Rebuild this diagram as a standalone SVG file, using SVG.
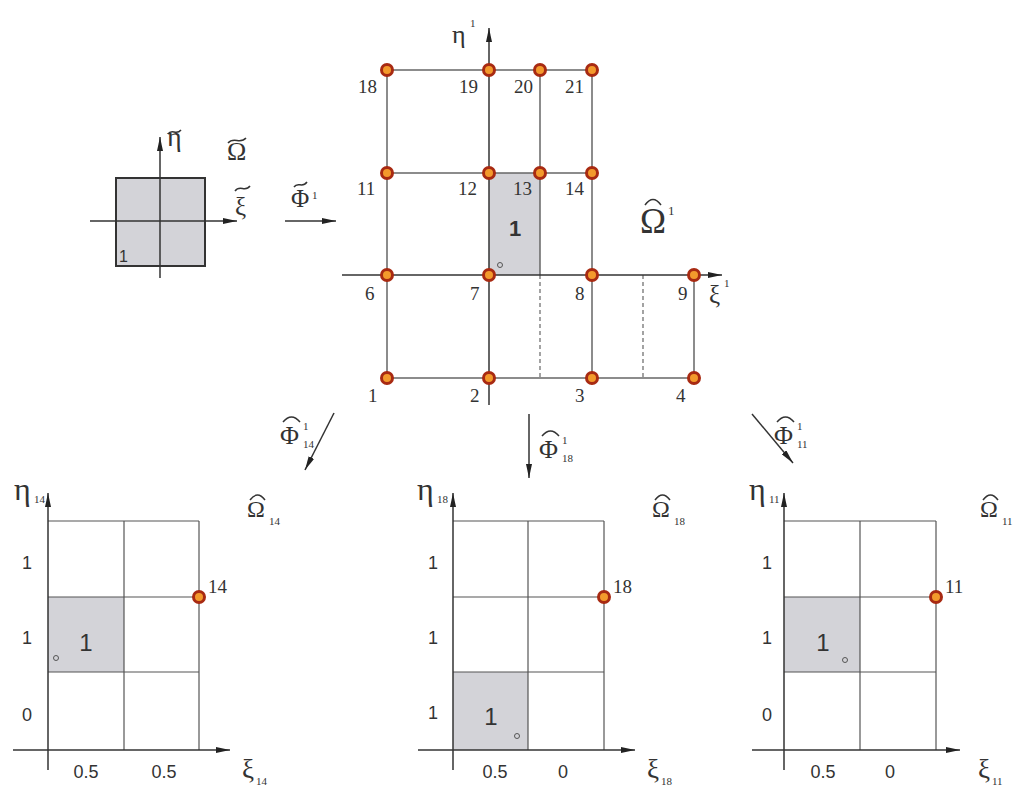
<svg xmlns="http://www.w3.org/2000/svg" width="1020" height="788" viewBox="0 0 1020 788">
<style>
.g{stroke:#666;stroke-width:1.5;fill:none}
.gt{stroke:#555;stroke-width:1.2;fill:none}
.ax{stroke:#333;stroke-width:1.5;fill:none}
.d{stroke:#666;stroke-width:1.2;stroke-dasharray:4,3;fill:none}
.n{fill:#f39a2c;stroke:#a82a12;stroke-width:3}
.sh{fill:#d3d3d8}
.s{font-family:"Liberation Serif","Times New Roman",serif;fill:#333}
.ss{font-family:"Liberation Sans",Arial,sans-serif;fill:#333}
.lb{font-size:19px}
.sub{font-size:11px}
.dot{fill:none;stroke:#555;stroke-width:1}
.acc{fill:none;stroke:#333;stroke-width:1.5}
</style>
<defs>
<marker id="ar" viewBox="0 0 14 6" refX="14" refY="3" markerWidth="14" markerHeight="6" markerUnits="userSpaceOnUse" orient="auto"><path d="M0,0 L14,3 L0,6 z" fill="#222"/></marker>
</defs>

<g id="reference-element">
<rect x="116" y="178" width="89" height="88" fill="#d3d3d8" stroke="#333" stroke-width="2"/>
<line class="ax" x1="90" y1="221" x2="237" y2="221" marker-end="url(#ar)"/>
<line class="ax" x1="160" y1="278" x2="160" y2="137" marker-end="url(#ar)"/>
<text class="ss" x="119" y="262" font-size="16">1</text>
<text class="s" x="167" y="146" font-size="28">η</text>
<path class="acc" d="M168,134 C172,128 176,136 181,130"/>
<text class="s" x="227" y="160" font-size="26">Ω</text>
<path class="acc" d="M228,143 C234,136 240,145 246,138"/>
<text class="s" x="235" y="215" font-size="25">ξ</text>
<path class="acc" d="M235,191 C240,184 245,193 250,186"/>
</g>

<g id="main-grid">
<rect class="sh" x="489" y="173" width="51" height="102"/>
<line class="g" x1="387" y1="70" x2="592" y2="70"/>
<line class="g" x1="387" y1="173" x2="592" y2="173"/>
<line class="g" x1="387" y1="378" x2="694" y2="378"/>
<line class="g" x1="387" y1="70" x2="387" y2="378"/>
<line class="g" x1="540" y1="70" x2="540" y2="275"/>
<line class="g" x1="592" y1="70" x2="592" y2="378"/>
<line class="g" x1="694" y1="275" x2="694" y2="378"/>
<line class="d" x1="540" y1="275" x2="540" y2="378"/>
<line class="d" x1="643" y1="275" x2="643" y2="378"/>
<line class="ax" x1="342" y1="275" x2="722" y2="275" marker-end="url(#ar)"/>
<line class="ax" x1="489" y1="405" x2="489" y2="28" marker-end="url(#ar)"/>
<text class="ss" x="515" y="236" font-size="22" font-weight="bold" text-anchor="middle">1</text>
<circle class="dot" cx="500" cy="265" r="2.5"/>
<text class="s" x="452" y="43" font-size="26">η</text>
<text class="s" x="470" y="27" font-size="11">1</text>
<text class="s" x="709" y="303" font-size="25">ξ</text>
<text class="s" x="724" y="287" font-size="11">1</text>
<text class="s" x="640" y="233" font-size="35">Ω</text>
<path class="acc" d="M645,205 Q653,194 661,205"/>
<text class="s" x="668" y="215" font-size="13">1</text>
</g>

<g id="nodes">
<circle class="n" cx="387" cy="70" r="5.5"/><circle class="n" cx="489" cy="70" r="5.5"/><circle class="n" cx="540" cy="70" r="5.5"/><circle class="n" cx="592" cy="70" r="5.5"/>
<circle class="n" cx="387" cy="173" r="5.5"/><circle class="n" cx="489" cy="173" r="5.5"/><circle class="n" cx="540" cy="173" r="5.5"/><circle class="n" cx="592" cy="173" r="5.5"/>
<circle class="n" cx="387" cy="275" r="5.5"/><circle class="n" cx="489" cy="275" r="5.5"/><circle class="n" cx="592" cy="275" r="5.5"/><circle class="n" cx="694" cy="275" r="5.5"/>
<circle class="n" cx="387" cy="378" r="5.5"/><circle class="n" cx="489" cy="378" r="5.5"/><circle class="n" cx="592" cy="378" r="5.5"/><circle class="n" cx="694" cy="378" r="5.5"/>
</g>

<g id="node-labels">
<text class="s lb" x="358" y="93">18</text><text class="s lb" x="459" y="93">19</text><text class="s lb" x="514" y="93">20</text><text class="s lb" x="565" y="93">21</text>
<text class="s lb" x="357" y="195">11</text><text class="s lb" x="458" y="195">12</text><text class="s lb" x="513" y="195">13</text><text class="s lb" x="565" y="195">14</text>
<text class="s lb" x="365" y="300">6</text><text class="s lb" x="470" y="300">7</text><text class="s lb" x="575" y="300">8</text><text class="s lb" x="678" y="300">9</text>
<text class="s lb" x="368" y="402">1</text><text class="s lb" x="470" y="402">2</text><text class="s lb" x="575" y="402">3</text><text class="s lb" x="676" y="402">4</text>
</g>

<g id="connectors">
<line class="ax" x1="285" y1="221" x2="336" y2="221" marker-end="url(#ar)"/>
<line class="ax" x1="334" y1="413" x2="305" y2="470" marker-end="url(#ar)"/>
<line class="ax" x1="529" y1="414" x2="529" y2="478" marker-end="url(#ar)"/>
<line class="ax" x1="752" y1="414" x2="793" y2="463" marker-end="url(#ar)"/>
</g>

<g id="map-labels">
<text class="s" x="291" y="207" font-size="25">Φ</text>
<path class="acc" d="M294,187 C298,181 302,189 307,182"/>
<text class="s" x="312" y="199" font-size="11">1</text>
<text class="s" x="280" y="444" font-size="26">Φ</text>
<path class="acc" d="M283,422 Q291.5,412 300,422"/>
<text class="s sub" x="303" y="430">1</text><text class="s sub" x="303" y="448">14</text>
<text class="s" x="539" y="458" font-size="26">Φ</text>
<path class="acc" d="M542,436 Q550.5,426 559,436"/>
<text class="s sub" x="562" y="444">1</text><text class="s sub" x="562" y="462">18</text>
<text class="s" x="774" y="444" font-size="26">Φ</text>
<path class="acc" d="M777,422 Q785.5,412 794,422"/>
<text class="s sub" x="797" y="430">1</text><text class="s sub" x="797" y="448">11</text>
</g>

<g id="panel-14">
<rect class="sh" x="48" y="597" width="76" height="75"/>
<line class="gt" x1="48" y1="521" x2="199" y2="521"/>
<line class="gt" x1="48" y1="597" x2="199" y2="597"/>
<line class="gt" x1="48" y1="672" x2="199" y2="672"/>
<line class="gt" x1="124" y1="521" x2="124" y2="750"/>
<line class="gt" x1="199" y1="521" x2="199" y2="750"/>
<line class="ax" x1="13" y1="750" x2="230" y2="750" marker-end="url(#ar)"/>
<line class="ax" x1="48" y1="770" x2="48" y2="493" marker-end="url(#ar)"/>
<circle class="n" cx="199" cy="597" r="5.5"/>
<text class="s lb" x="208" y="593">14</text>
<text class="ss" x="86" y="651" font-size="24" text-anchor="middle">1</text>
<circle class="dot" cx="56" cy="658" r="2.5"/>
<text class="ss" x="27" y="569" font-size="18" text-anchor="middle">1</text>
<text class="ss" x="27" y="644" font-size="18" text-anchor="middle">1</text>
<text class="ss" x="27" y="721" font-size="18" text-anchor="middle">0</text>
<text class="ss" x="86" y="778" font-size="18" text-anchor="middle">0.5</text>
<text class="ss" x="164" y="778" font-size="18" text-anchor="middle">0.5</text>
<text class="s" x="14" y="500" font-size="32">η</text><text class="s sub" x="34" y="503">14</text>
<text class="s" x="247" y="517" font-size="24">Ω</text>
<path class="acc" d="M250,500 Q257.5,490 265,500"/>
<text class="s sub" x="269" y="525">14</text>
<text class="s" x="242" y="778" font-size="27">ξ</text><text class="s sub" x="256" y="785">14</text>
</g>

<g id="panel-18">
<rect class="sh" x="453" y="672" width="75" height="78"/>
<line class="gt" x1="453" y1="521" x2="604" y2="521"/>
<line class="gt" x1="453" y1="597" x2="604" y2="597"/>
<line class="gt" x1="453" y1="672" x2="604" y2="672"/>
<line class="gt" x1="528" y1="521" x2="528" y2="750"/>
<line class="gt" x1="604" y1="521" x2="604" y2="750"/>
<line class="ax" x1="418" y1="750" x2="635" y2="750" marker-end="url(#ar)"/>
<line class="ax" x1="453" y1="770" x2="453" y2="493" marker-end="url(#ar)"/>
<circle class="n" cx="604" cy="597" r="5.5"/>
<text class="s lb" x="613" y="593">18</text>
<text class="ss" x="491" y="725" font-size="24" text-anchor="middle">1</text>
<circle class="dot" cx="517" cy="736" r="2.5"/>
<text class="ss" x="433" y="569" font-size="18" text-anchor="middle">1</text>
<text class="ss" x="433" y="644" font-size="18" text-anchor="middle">1</text>
<text class="ss" x="433" y="719" font-size="18" text-anchor="middle">1</text>
<text class="ss" x="495" y="778" font-size="18" text-anchor="middle">0.5</text>
<text class="ss" x="563" y="778" font-size="18" text-anchor="middle">0</text>
<text class="s" x="417" y="500" font-size="32">η</text><text class="s sub" x="437" y="503">18</text>
<text class="s" x="652" y="517" font-size="24">Ω</text>
<path class="acc" d="M655,500 Q662.5,490 670,500"/>
<text class="s sub" x="674" y="525">18</text>
<text class="s" x="647" y="778" font-size="27">ξ</text><text class="s sub" x="661" y="785">18</text>
</g>

<g id="panel-11">
<rect class="sh" x="784" y="597" width="76" height="75"/>
<line class="gt" x1="784" y1="521" x2="936" y2="521"/>
<line class="gt" x1="784" y1="597" x2="936" y2="597"/>
<line class="gt" x1="784" y1="672" x2="936" y2="672"/>
<line class="gt" x1="860" y1="521" x2="860" y2="750"/>
<line class="gt" x1="936" y1="521" x2="936" y2="750"/>
<line class="ax" x1="752" y1="750" x2="960" y2="750" marker-end="url(#ar)"/>
<line class="ax" x1="784" y1="770" x2="784" y2="493" marker-end="url(#ar)"/>
<circle class="n" cx="936" cy="597" r="5.5"/>
<text class="s lb" x="945" y="593">11</text>
<text class="ss" x="823" y="651" font-size="24" text-anchor="middle">1</text>
<circle class="dot" cx="845" cy="660" r="2.5"/>
<text class="ss" x="767" y="569" font-size="18" text-anchor="middle">1</text>
<text class="ss" x="767" y="644" font-size="18" text-anchor="middle">1</text>
<text class="ss" x="767" y="721" font-size="18" text-anchor="middle">0</text>
<text class="ss" x="823" y="778" font-size="18" text-anchor="middle">0.5</text>
<text class="ss" x="890" y="778" font-size="18" text-anchor="middle">0</text>
<text class="s" x="749" y="500" font-size="32">η</text><text class="s sub" x="769" y="503">11</text>
<text class="s" x="980" y="517" font-size="24">Ω</text>
<path class="acc" d="M983,500 Q990.5,490 998,500"/>
<text class="s sub" x="1002" y="525">11</text>
<text class="s" x="978" y="778" font-size="27">ξ</text><text class="s sub" x="992" y="785">11</text>
</g>
</svg>
